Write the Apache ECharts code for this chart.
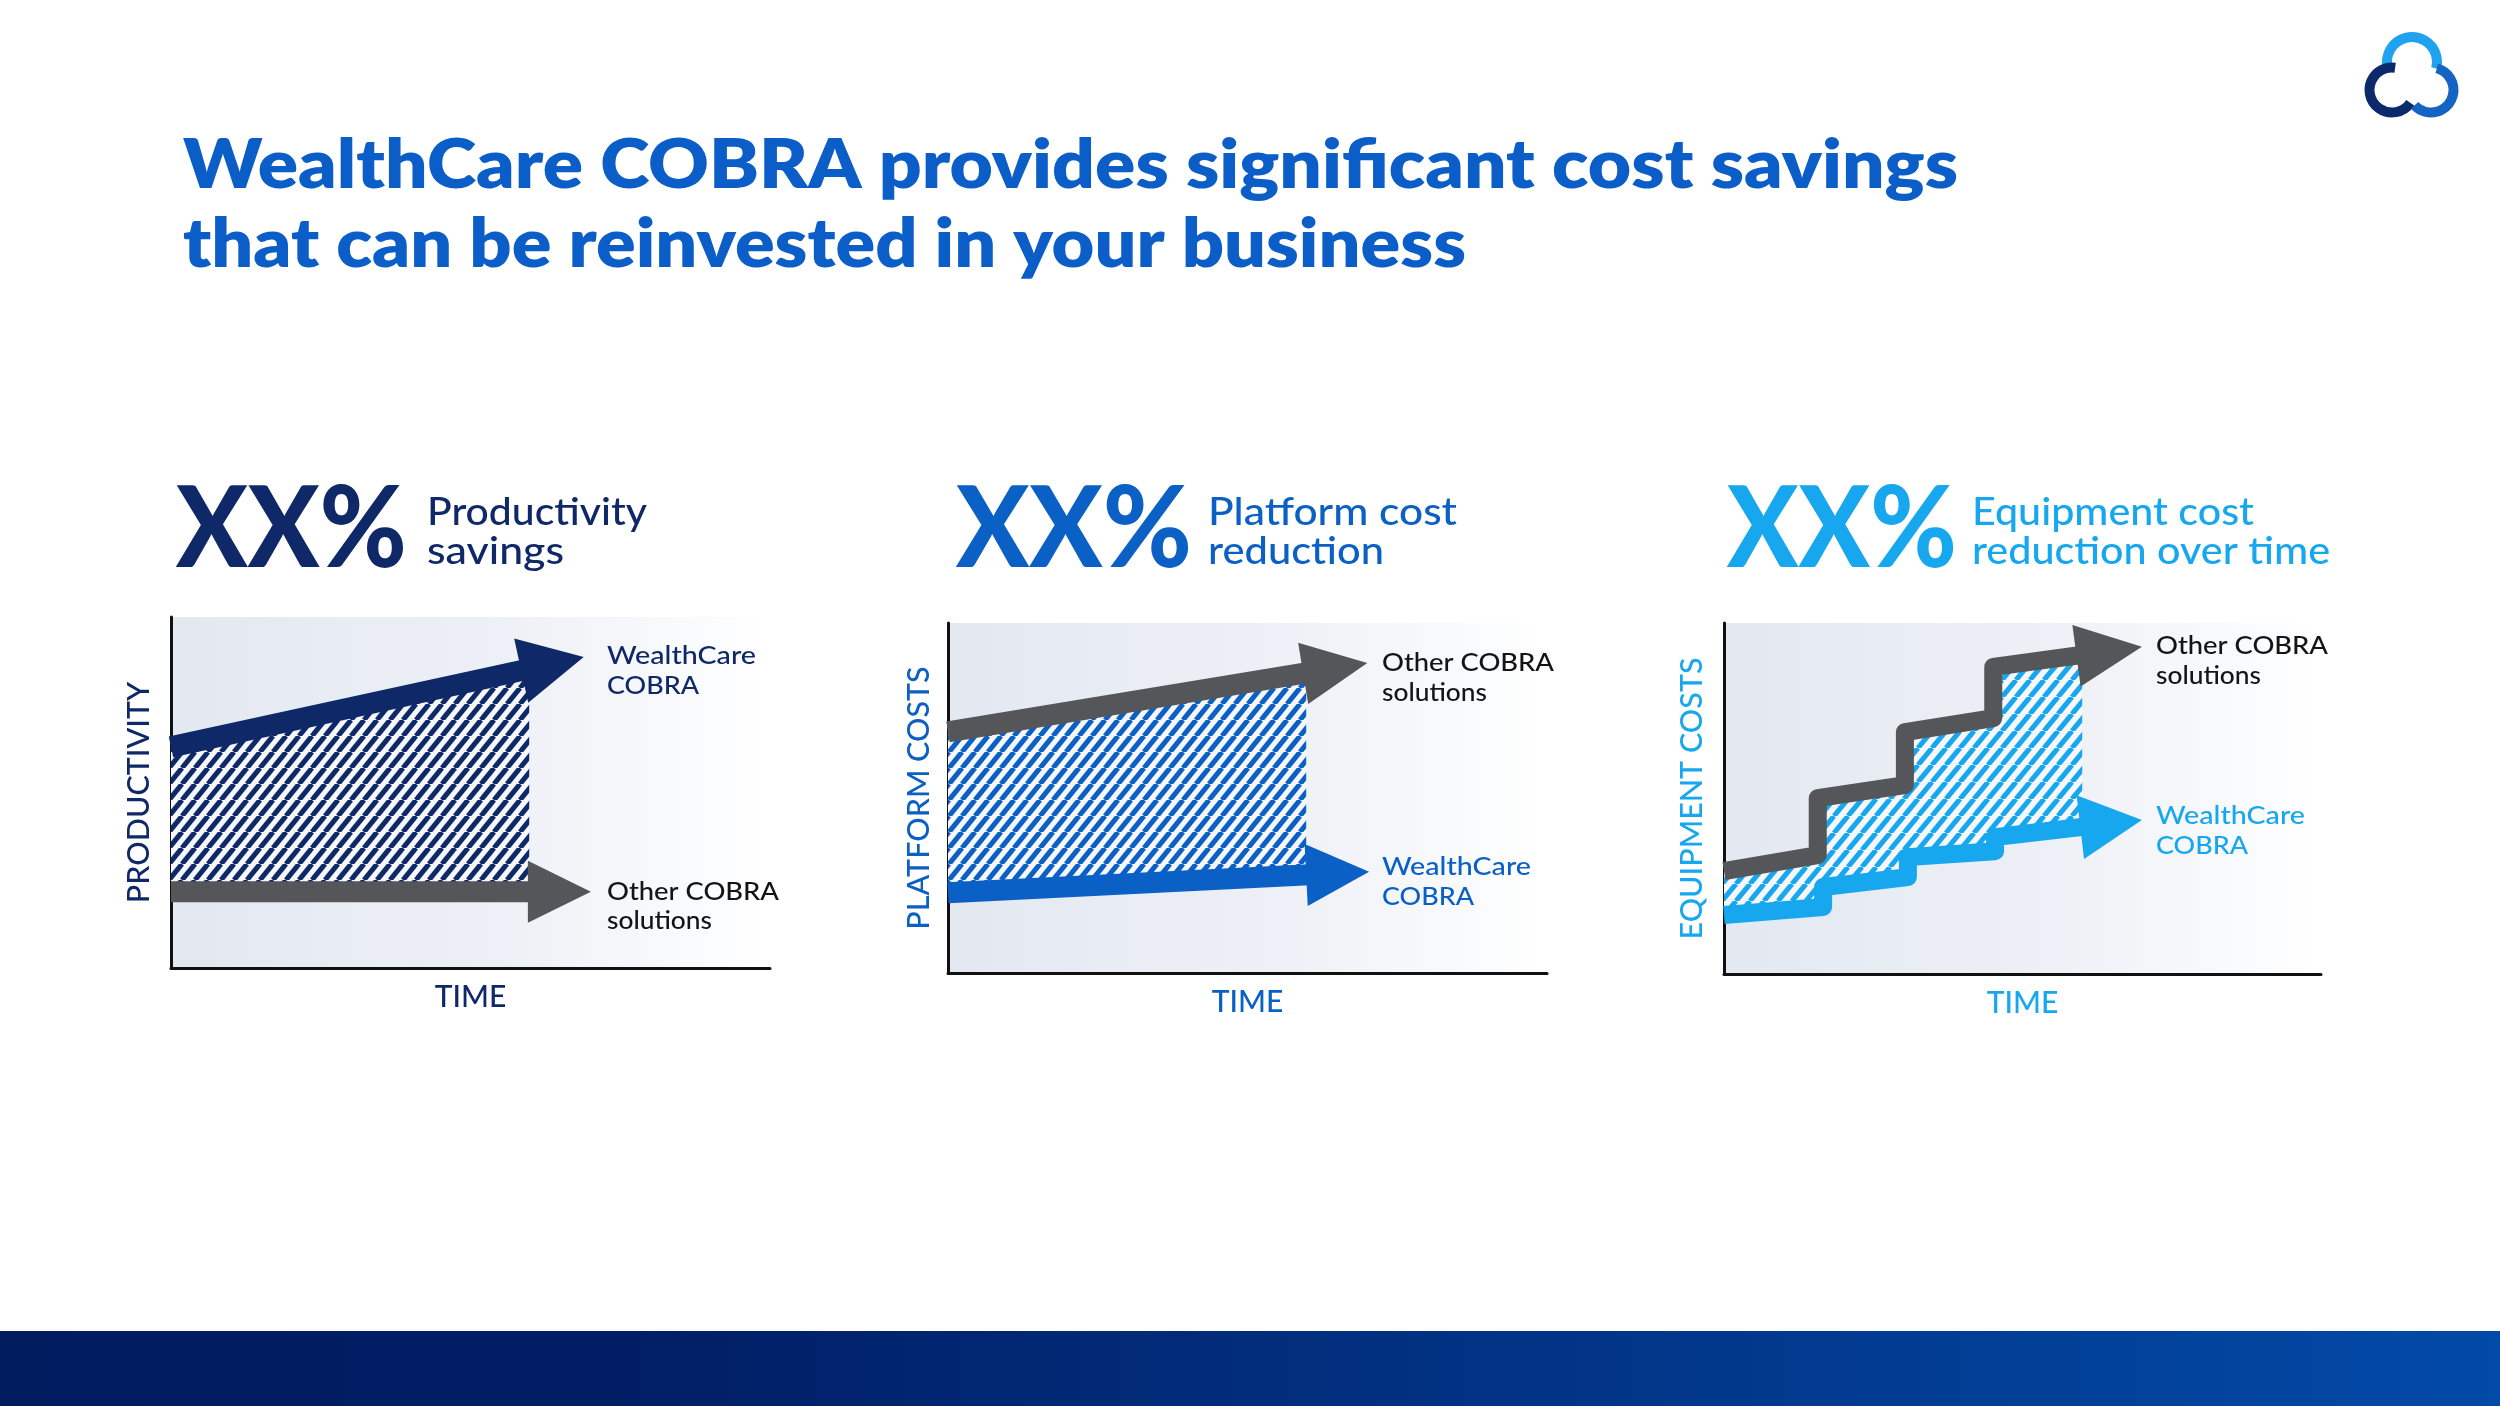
<!DOCTYPE html>
<html>
<head>
<meta charset="utf-8">
<script src="https://cdn.jsdelivr.net/npm/echarts@6/dist/echarts.min.js"></script>
<style>
html,body{margin:0;padding:0;background:#ffffff;}
#chart{width:2500px;height:1406px;}
</style>
</head>
<body>
<div id="chart"></div>
<script>
// ================= DATA =================
const headlineLines = ['WealthCare COBRA provides significant cost savings', 'that can be reinvested in your business'];
const bigValues = ['XX%', 'XX%', 'XX%'];
const subheadLines = [['Productivity', 'savings'], ['Platform cost', 'reduction'], ['Equipment cost', 'reduction over time']];
const yAxisNames = ['PRODUCTIVITY', 'PLATFORM COSTS', 'EQUIPMENT COSTS'];
const xAxisName = 'TIME';
const wealthLabel = ['WealthCare', 'COBRA'];
const otherLabel = ['Other COBRA', 'solutions'];

// Panel 1 – productivity (x: time 0-100, y: level 0-100)
const prodWealthCare = [[0, 63.0], [68.9, 88.6]];
const prodOther = [[0, 21.7], [70.1, 21.7]];
const prodGapTop = [[0, 63.0], [59.8, 84.9]];
const prodGapBottom = [[0, 21.7], [59.8, 21.7]];

// Panel 2 – platform costs
const platOther = [[0, 68.9], [70.0, 88.6]];
const platWealthCare = [[0, 22.9], [70.3, 28.9]];
const platGapTop = [[0, 68.9], [59.8, 85.6]];
const platGapBottom = [[0, 22.9], [59.8, 27.7]];

// Panel 3 – equipment costs (stepped)
const equipOther = [[0, 29.3], [15.7, 33.9], [15.7, 50.1], [30.3, 53.8], [30.3, 68.9], [45.1, 72.9], [45.1, 87.5], [70.0, 93.2]];
const equipWealthCare = [[0, 16.8], [16.6, 19.1], [16.6, 24.8], [30.8, 27.6], [30.8, 33.3], [45.4, 35.0], [45.4, 39.0], [70.0, 43.9]];
const equipGapTop = [[0, 29.3], [15.7, 33.9], [15.7, 50.1], [30.3, 53.8], [30.3, 68.9], [45.1, 72.9], [45.1, 87.5], [60.0, 90.9]];
const equipGapBottom = [[0, 16.8], [16.6, 19.1], [16.6, 24.8], [30.8, 27.6], [30.8, 33.3], [45.4, 35.0], [45.4, 39.0], [60.0, 41.9]];

// ================= STYLE =================
const NAVY = '#0f2868';
const BLUE = '#0b60c6';
const LIGHT = '#16a7ee';
const GRAY = '#545659';
const TITLE = '#0b5ec7';
const INK = '#141414';
const FONT = 'Lato';
const panelColors = [NAVY, BLUE, LIGHT];

function stripe(color, w, h, lw) {
  const c = document.createElement('canvas');
  c.width = w; c.height = h;
  const ctx = c.getContext('2d');
  ctx.fillStyle = '#f5f7fb';
  ctx.fillRect(0, 0, w, h);
  ctx.strokeStyle = color;
  ctx.lineWidth = lw;
  [-w, 0, w].forEach(dx => {
    ctx.beginPath(); ctx.moveTo(dx, h); ctx.lineTo(dx + w, 0); ctx.stroke();
  });
  return c;
}
const patterns = [stripe(NAVY, 13, 16, 5), stripe(BLUE, 13, 16, 5), stripe(LIGHT, 14, 17, 5)];

const mctx = document.createElement('canvas').getContext('2d');
function txt(str, x, y, size, weight, color, targetW, align) {
  const font = weight + ' ' + size + 'px ' + FONT;
  let sx = 1;
  if (targetW) { mctx.font = font; sx = targetW / mctx.measureText(str).width; }
  return {
    type: 'text', x: x, y: y, scaleX: sx, scaleY: 1, silent: true, z: 10,
    style: { text: str, font: font, fill: color, textAlign: align || 'left', textVerticalAlign: 'middle', align: align || 'left', verticalAlign: 'middle' }
  };
}

function arrowSeries(gi, pts, color, shaftW, headLen, headW) {
  return {
    type: 'custom', coordinateSystem: 'cartesian2d', xAxisIndex: gi, yAxisIndex: gi,
    data: pts, silent: true, z: 3,
    renderItem: function (params, api) {
      if (params.dataIndex !== 0) return null;
      const P = pts.map(p => api.coord(p));
      const tip = P[P.length - 1], prev = P[P.length - 2];
      let dx = tip[0] - prev[0], dy = tip[1] - prev[1];
      const L = Math.hypot(dx, dy); dx /= L; dy /= L;
      const base = [tip[0] - dx * headLen, tip[1] - dy * headLen];
      const shaft = P.slice(0, -1).concat([[base[0] + dx * 3, base[1] + dy * 3]]);
      const nx = -dy, ny = dx;
      const head = [tip, [base[0] + nx * headW / 2, base[1] + ny * headW / 2], [base[0] - nx * headW / 2, base[1] - ny * headW / 2]];
      return {
        type: 'group', children: [
          { type: 'polyline', shape: { points: shaft }, style: { stroke: color, lineWidth: shaftW, fill: null, lineJoin: 'round', lineCap: 'butt' } },
          { type: 'polygon', shape: { points: head }, style: { fill: color } }
        ]
      };
    }
  };
}

function hatchSeries(gi, top, bottom, pat) {
  return {
    type: 'custom', coordinateSystem: 'cartesian2d', xAxisIndex: gi, yAxisIndex: gi,
    data: top, silent: true, z: 2,
    renderItem: function (params, api) {
      if (params.dataIndex !== 0) return null;
      const pts = top.map(p => api.coord(p)).concat(bottom.slice().reverse().map(p => api.coord(p)));
      return { type: 'polygon', shape: { points: pts }, style: { fill: { image: pat, repeat: 'repeat' } } };
    }
  };
}

const gridBox = [
  { left: 171, top: 617, width: 599, height: 351 },
  { left: 948, top: 623, width: 599, height: 350 },
  { left: 1724, top: 623, width: 597, height: 351 }
];
const yNameGap = [16, 13, 16];

const bgGrad = new echarts.graphic.LinearGradient(0, 0, 1, 0, [
  { offset: 0, color: '#e3e8f1' }, { offset: 0.55, color: '#edf0f6' }, { offset: 1, color: '#ffffff' }
]);

const grids = gridBox.map(g => Object.assign({ show: true, backgroundColor: bgGrad, borderWidth: 0, containLabel: false }, g));
const axisLine = { show: true, onZero: false, lineStyle: { color: '#111111', width: 3 } };
const xAxes = gridBox.map((g, i) => ({
  type: 'value', gridIndex: i, min: 0, max: 100, axisLine: axisLine, axisTick: { show: false }, axisLabel: { show: false }, splitLine: { show: false },
  name: xAxisName, nameLocation: 'middle', nameGap: 14,
  nameTextStyle: { fontSize: 30, fontFamily: FONT, fontWeight: 500, color: panelColors[i] }
}));
const yAxes = gridBox.map((g, i) => ({
  type: 'value', gridIndex: i, min: 0, max: 100, axisLine: axisLine, axisTick: { show: false }, axisLabel: { show: false }, splitLine: { show: false },
  name: yAxisNames[i], nameLocation: 'middle', nameGap: yNameGap[i],
  nameTextStyle: { fontSize: 30.5, fontFamily: FONT, fontWeight: 500, color: panelColors[i] }
}));

const series = [
  hatchSeries(0, prodGapTop, prodGapBottom, patterns[0]),
  arrowSeries(0, prodOther, GRAY, 21, 63, 62),
  arrowSeries(0, prodWealthCare, NAVY, 21, 64, 66),
  hatchSeries(1, platGapTop, platGapBottom, patterns[1]),
  arrowSeries(1, platOther, GRAY, 21, 65, 62),
  arrowSeries(1, platWealthCare, BLUE, 21, 63, 62),
  hatchSeries(2, equipGapTop, equipGapBottom, patterns[2]),
  arrowSeries(2, equipOther, GRAY, 18, 66, 62),
  arrowSeries(2, equipWealthCare, LIGHT, 18, 62, 64)
];

// ================= TEXT / DECOR =================
const graphics = [];
graphics.push(txt(headlineLines[0], 183, 166, 69, 800, TITLE, 1775));
graphics.push(txt(headlineLines[1], 183, 245, 69, 800, TITLE, 1283));

const bigX = [176, 956, 1727], bigW = [231, 236, 230];
const subX = [427, 1208, 1972];
const subW = [[220, 137], [249, 176], [282, 358]];
for (let i = 0; i < 3; i++) {
  graphics.push(txt(bigValues[i], bigX[i], 531, 112, 900, panelColors[i], bigW[i]));
  graphics.push(txt(subheadLines[i][0], subX[i], 512, 39, 500, panelColors[i], subW[i][0]));
  graphics.push(txt(subheadLines[i][1], subX[i], 551, 39, 500, panelColors[i], subW[i][1]));
}

// series labels
const labX = [607, 1382, 2156];
const wealthY = [[656, 686], [867, 897], [816, 846]];
const otherY = [[892, 921], [663, 693], [646, 676]];
for (let i = 0; i < 3; i++) {
  graphics.push(txt(wealthLabel[0], labX[i], wealthY[i][0], 25, 500, panelColors[i], 149));
  graphics.push(txt(wealthLabel[1], labX[i], wealthY[i][1], 25, 500, panelColors[i], 92));
  graphics.push(txt(otherLabel[0], labX[i], otherY[i][0], 25, 500, INK, 172));
  graphics.push(txt(otherLabel[1], labX[i], otherY[i][1], 25, 500, INK, 105));
}

// logo
graphics.push({ type: 'arc', silent: true, shape: { cx: 2412, cy: 62, r: 25, startAngle: 165 * Math.PI / 180, endAngle: 375 * Math.PI / 180, clockwise: true }, style: { stroke: '#1fa3ee', lineWidth: 10, fill: null } });
graphics.push({ type: 'arc', silent: true, shape: { cx: 2392, cy: 90, r: 22.5, startAngle: 35 * Math.PI / 180, endAngle: 278 * Math.PI / 180, clockwise: true }, style: { stroke: '#0c2a6b', lineWidth: 10, fill: null } });
graphics.push({ type: 'arc', silent: true, shape: { cx: 2431, cy: 90, r: 22.5, startAngle: 285 * Math.PI / 180, endAngle: 497 * Math.PI / 180, clockwise: true }, style: { stroke: '#1464c4', lineWidth: 10, fill: null } });

// bottom band
graphics.push({
  type: 'rect', silent: true, shape: { x: 0, y: 1331, width: 2500, height: 75 },
  style: { fill: new echarts.graphic.LinearGradient(0, 0, 1, 0, [
    { offset: 0, color: '#011b5f' }, { offset: 0.25, color: '#011e65' }, { offset: 1, color: '#024aa7' }
  ]) }
});

const chart = echarts.init(document.getElementById('chart'), null, { renderer: 'canvas', width: 2500, height: 1406 });
chart.setOption({
  animation: false,
  backgroundColor: '#ffffff',
  grid: grids,
  xAxis: xAxes,
  yAxis: yAxes,
  series: series,
  graphic: { elements: graphics }
});
</script>
</body>
</html>
